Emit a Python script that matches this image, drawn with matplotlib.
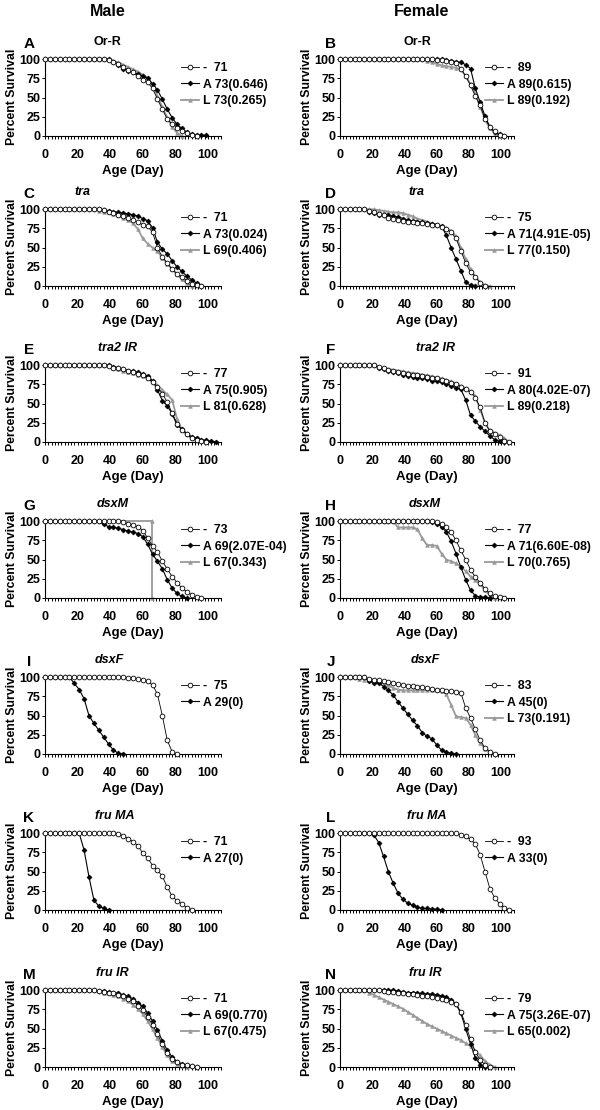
#!/usr/bin/env python

import numpy as np
import matplotlib.pyplot as plt
from matplotlib.ticker import MultipleLocator

plt.rcParams['font.family'] = 'Liberation Sans'
plt.rcParams['font.weight'] = 'bold'

# ----------------------------------------------------------
# Survival data: percent alive, read every 3 days from day 0
# (ctrl = "-", a = "A", l = "L")
# ----------------------------------------------------------
STEP = 3

# A - male Or-R
a_ctrl = [100, 100, 100, 100, 100, 100, 100, 100, 100, 100, 100, 100, 100,
          99, 97, 94, 90, 86, 83, 78, 73, 70, 62, 48, 35, 22, 16, 11, 7, 4, 1, 0]
a_a = [100, 100, 100, 100, 100, 100, 100, 100, 100, 100, 100, 100, 100, 100,
       97, 92, 88, 85, 83, 81, 78, 75, 68, 60, 48, 35, 24, 15, 10, 5, 2, 1, 1, 1]
a_l = [100, 100, 100, 100, 100, 100, 100, 100, 100, 100, 100, 100, 100, 100,
       98, 96, 93, 90, 87, 84, 80, 76, 67, 52, 38, 24, 12, 4, 0]

# B - female Or-R
b_ctrl = [100, 100, 100, 100, 100, 100, 100, 100, 100, 100, 100, 100, 100, 100,
          100, 100, 100, 100, 100, 100,
          99, 99, 98, 97, 95, 88, 78, 66, 52, 40, 22, 12, 6, 1, 0]
b_a = [100, 100, 100, 100, 100, 100, 100, 100, 100, 100, 100, 100, 100, 100,
       100, 100, 100, 100, 100, 100, 100, 100,
       99, 98, 97, 96, 93, 88, 62, 44, 26, 12, 5, 2, 0]
b_l = [100, 100, 100, 100, 100, 100, 100, 100, 100, 100, 100, 100, 100, 100,
       100, 100, 100, 100,
       98, 96, 94, 92, 91, 90, 89, 87, 78, 68, 55, 38, 22, 10, 4, 0]

# C - male tra
c_ctrl = [100, 100, 100, 100, 100, 100, 100, 100, 100, 100, 100, 100,
          99, 97, 95, 93, 91, 89, 86, 83, 80, 78, 70, 50, 38, 30, 22, 16, 12, 7, 3, 1, 0]
c_a = [100, 100, 100, 100, 100, 100, 100, 100, 100, 100, 100, 100,
       99, 98, 97, 96, 95, 94, 93, 91, 88, 85, 76, 57, 48, 42, 33, 25, 19, 13, 8, 4, 0]
c_l = [100, 100, 100, 100, 100, 100, 100, 100, 100, 100, 100,
       98, 97, 96, 94, 92, 89, 86, 82, 74, 62, 55, 50, 45, 37, 29, 22, 15, 9, 4, 0]

# D - female tra
d_ctrl = [100, 100, 100, 100, 100, 100,
          98, 96, 94, 92, 89, 87, 86, 85, 84, 83, 82, 82, 81, 80, 79, 77, 74, 70,
          62, 46, 30, 18, 12, 4, 0]
d_a = [100, 100, 100, 100, 100, 100,
       97, 95, 93, 92, 92, 91, 90, 88, 86, 85, 84, 83, 82, 81, 80, 78, 66, 50,
       35, 20, 5, 1, 0]
d_l = [100, 100, 100, 100, 100, 100, 100, 100,
       99, 98, 97, 96, 96, 95, 93, 91, 88, 86, 84, 82, 80, 78, 75, 72, 65, 50,
       35, 22, 12, 5, 1, 0]

# E - male tra2 IR
e_ctrl = [100, 100, 100, 100, 100, 100, 100, 100, 100, 100, 100, 100, 100,
          99, 97, 96, 95, 93, 91, 89, 87, 83, 78, 72, 63, 52, 38, 24, 16, 10, 5, 3, 1, 0]
e_a = [100, 100, 100, 100, 100, 100, 100, 100, 100, 100, 100, 100, 100, 100,
       98, 97, 95, 93, 92, 91, 89, 86, 80, 68, 54, 47, 37, 22, 17, 11, 7, 5, 3, 2, 1, 0]
e_l = [100, 100, 100, 100, 100, 100, 100, 100, 100, 100, 100, 100, 100, 100,
       97, 95, 93, 91, 90, 88, 86, 83, 79, 74, 68, 62, 55, 30, 16, 10, 5, 3, 1, 0]

# F - female tra2 IR
f_ctrl = [100, 100, 100, 100, 100, 100, 100, 100,
          98, 96, 94, 92, 91, 90, 89, 88, 87, 86, 85, 84, 83, 81, 79, 77, 75, 72,
          69, 65, 58, 45, 25, 14, 11, 6, 1, 0]
f_a = [100, 100, 100, 100, 100, 100, 100, 100,
       97, 95, 92, 91, 90, 88, 86, 85, 84, 83, 82, 80, 79, 78, 76, 73, 71, 69,
       55, 35, 27, 20, 14, 8, 3, 1, 0]
f_l = [100, 100, 100, 100, 100, 100, 100, 100,
       98, 96, 95, 94, 93, 92, 91, 90, 89, 88, 87, 86, 84, 83, 81, 79, 76, 73,
       70, 66, 60, 42, 25, 15, 12, 9, 5, 0]

# G - male dsxM
g_ctrl = [100, 100, 100, 100, 100, 100, 100, 100, 100, 100, 100, 100, 100, 100,
          100, 100,
          99, 97, 95, 93, 88, 78, 68, 60, 48, 38, 28, 20, 13, 8, 4, 1, 0]
g_a = [100, 100, 100, 100, 100, 100, 100, 100, 100, 100, 100, 100,
       96, 93, 92, 91, 89, 87, 86, 84, 80, 70, 57, 48, 38, 24, 13, 6, 2, 0]
g_l_days = [0, 65.5, 65.5]          # all L flies died on the same day
g_l = [100, 100, 0]

# H - female dsxM
h_ctrl = [100, 100, 100, 100, 100, 100, 100, 100, 100, 100, 100, 100, 100, 100,
          100, 100, 100, 100, 100, 100,
          99, 97, 93, 86, 75, 62, 50, 37, 27, 20, 12, 6, 2, 1, 0]
h_a = [100, 100, 100, 100, 100, 100, 100, 100, 100, 100, 100, 100, 100, 100,
       100, 100, 100, 100, 100,
       99, 97, 93, 86, 74, 58, 40, 24, 10, 3, 1, 1, 0]
h_l = [100, 100, 100, 100, 100, 100, 100, 100, 100, 100, 100, 100,
       92, 92, 92, 92, 90, 78, 69, 69, 68, 58, 50, 48, 45, 41, 35, 28, 23, 18,
       10, 4, 0]

# I - male dsxF
i_ctrl = [100, 100, 100, 100, 100, 100, 100, 100, 100, 100, 100, 100, 100, 100,
          100, 100, 100,
          99, 99, 98, 97, 95, 90, 78, 50, 18, 3, 0]
i_a = [100, 100, 100, 100, 100, 100,
       92, 84, 72, 50, 40, 31, 22, 13, 5, 1, 0]

# J - female dsxF
j_ctrl = [100, 100, 100, 100, 100, 100,
          98, 97, 96, 95, 94, 93, 91, 90, 89, 89, 88, 87, 86, 85, 84, 83, 82, 82,
          81, 80, 60, 47, 32, 18, 8, 3, 0]
j_a = [100, 100, 100, 100, 100, 100,
       95, 93, 93, 88, 83, 77, 68, 60, 52, 44, 37, 28, 23, 20, 12, 5, 2, 1, 0]
j_l = [100, 100, 100, 100,
       98, 97, 97, 96, 95, 92, 90, 86, 84, 83, 83, 83, 83, 83, 83, 83, 83, 82,
       78, 64, 49, 48, 47, 38, 25, 14, 7, 3, 0]

# K - male fru MA
k_ctrl = [100, 100, 100, 100, 100, 100, 100, 100, 100, 100, 100, 100, 100, 100,
          100,
          99, 97, 93, 89, 84, 74, 68, 58, 52, 44, 30, 18, 12, 8, 3, 0]
k_a = [100, 100, 100, 100, 100, 100, 100, 100,
       78, 43, 13, 5, 2, 0]

# L - female fru MA
l_ctrl = [100, 100, 100, 100, 100, 100, 100, 100, 100, 100, 100, 100, 100, 100,
          100, 100, 100, 100, 100, 100, 100, 100, 100, 100, 100,
          98, 96, 92, 86, 72, 50, 28, 16, 8, 3, 0]
l_a = [100, 100, 100, 100, 100, 100, 100,
       98, 88, 70, 50, 35, 22, 14, 9, 6, 4, 2, 2, 1, 1, 0]

# M - male fru IR
m_ctrl = [100, 100, 100, 100, 100, 100, 100, 100, 100, 100, 100,
          99, 98, 97, 96, 94, 92, 89, 86, 80, 74, 65, 55, 43, 30, 18, 10, 6, 3, 2, 1, 0]
m_a = [100, 100, 100, 100, 100, 100, 100, 100, 100, 100, 100,
       99, 99, 98, 97, 96, 94, 92, 89, 84, 79, 70, 60, 48, 34, 22, 13, 7, 4, 2, 1, 0]
m_l = [100, 100, 100, 100, 100, 100, 100, 100, 100, 100, 100,
       99, 97, 96, 94, 92, 89, 86, 81, 76, 69, 60, 49, 38, 26, 15, 8, 4, 1, 0]

# N - female fru IR
n_ctrl = [100, 100, 100, 100, 100, 100, 100, 100, 100,
          99, 98, 98, 97, 96, 95, 95, 94, 93, 92, 91, 90, 89, 87, 85, 82, 72, 55,
          36, 20, 9, 3, 0]
n_a = [100, 100, 100, 100, 100, 100, 100, 100, 100, 100, 100, 100,
       99, 98, 97, 97, 96, 96, 95, 95, 94, 93, 91, 88, 82, 70, 50, 30, 12, 3, 0]
n_l = [100, 100, 100, 100, 100, 100,
       97, 94, 91, 88, 85, 82, 79, 76, 72, 68, 64, 60, 56, 53, 50, 47, 44, 41,
       38, 35, 31, 27, 21, 15, 8, 3, 0]

# Panel letters, genotype titles and legend texts (median + p value)
letters = list("ABCDEFGHIJKLMN")
titles = ["Or-R", "Or-R", "tra", "tra", "tra2 IR", "tra2 IR", "dsxM", "dsxM",
          "dsxF", "dsxF", "fru MA", "fru MA", "fru IR", "fru IR"]
curves = [
    [a_ctrl, a_a, a_l], [b_ctrl, b_a, b_l],
    [c_ctrl, c_a, c_l], [d_ctrl, d_a, d_l],
    [e_ctrl, e_a, e_l], [f_ctrl, f_a, f_l],
    [g_ctrl, g_a, g_l], [h_ctrl, h_a, h_l],
    [i_ctrl, i_a], [j_ctrl, j_a, j_l],
    [k_ctrl, k_a], [l_ctrl, l_a],
    [m_ctrl, m_a, m_l], [n_ctrl, n_a, n_l],
]
legends = [
    ["-  71", "A 73(0.646)", "L 73(0.265)"],
    ["-  89", "A 89(0.615)", "L 89(0.192)"],
    ["-  71", "A 73(0.024)", "L 69(0.406)"],
    ["-  75", "A 71(4.91E-05)", "L 77(0.150)"],
    ["-  77", "A 75(0.905)", "L 81(0.628)"],
    ["-  91", "A 80(4.02E-07)", "L 89(0.218)"],
    ["-  73", "A 69(2.07E-04)", "L 67(0.343)"],
    ["-  77", "A 71(6.60E-08)", "L 70(0.765)"],
    ["-  75", "A 29(0)"],
    ["-  83", "A 45(0)", "L 73(0.191)"],
    ["-  71", "A 27(0)"],
    ["-  93", "A 33(0)"],
    ["-  71", "A 69(0.770)", "L 67(0.475)"],
    ["-  79", "A 75(3.26E-07)", "L 65(0.002)"],
]

# ----------------------------------------------------------
# Layout (pixels on a 600 x 1110 canvas)
# ----------------------------------------------------------
W, H = 600, 1110
row_zero = [136, 286, 442, 598, 754, 910, 1067]   # y=0 line of each row
col_left = [45, 340]
col_width = [176, 174]
ax_h = 79
title_x = [107, 417, 82, 416, 117, 435, 113, 425, 109, 425, 115, 427, 112, 425]
letter_x = [29, 331]
legend_x = [181, 485]

styles = [
    dict(color='black', marker='o', mfc='white', mec='black', ms=3.4, mew=0.6,
         lw=0.6, zorder=4),
    dict(color='black', marker='D', mfc='black', mec='black', ms=2.5, mew=0.5,
         lw=0.8, zorder=3),
    dict(color='#9a9a9a', marker='^', mfc='#9a9a9a', mec='#9a9a9a', ms=2.6,
         mew=0.5, lw=1.3, zorder=2),
]


def fx(px):
    return px / W


def fy(py):
    return 1 - py / H


fig = plt.figure(figsize=(6, 11.1), dpi=100)

for k in range(14):
    row, col = divmod(k, 2)
    zero = row_zero[row]
    top = zero - 77
    ax = fig.add_axes([fx(col_left[col]), fy(zero), col_width[col] / W, ax_h / H])

    handles = []
    for j, surv in enumerate(curves[k]):
        if surv is g_l:
            days = g_l_days
        else:
            days = np.arange(len(surv)) * STEP
        h, = ax.plot(days, surv, clip_on=False, **styles[j])
        handles.append(h)

    ax.set_xlim(0, 108)
    ax.set_ylim(0, 103)
    ax.set_xticks([0, 20, 40, 60, 80, 100])
    ax.xaxis.set_minor_locator(MultipleLocator(2))
    ax.set_yticks([0, 25, 50, 75, 100])
    ax.tick_params(axis='x', which='both', length=2.2, width=0.7, labelsize=9, pad=7)
    ax.tick_params(axis='y', which='major', length=2.2, width=0.7, labelsize=9, pad=1)
    for s in ['top', 'right']:
        ax.spines[s].set_visible(False)
    for s in ['left', 'bottom']:
        ax.spines[s].set_linewidth(0.8)
    ax.set_xlabel("Age (Day)", fontsize=9.5, fontweight='bold', labelpad=3)
    ax.set_ylabel("Percent Survival", fontsize=8.8, fontweight='bold', labelpad=1)

    ax.legend(handles, legends[k], loc='upper left',
              bbox_to_anchor=(fx(legend_x[col]), fy(top + 3)),
              bbox_transform=fig.transFigure, frameon=False,
              prop=dict(size=8.8, weight='bold'), handlelength=1.5,
              handletextpad=0.3, labelspacing=0.38, borderpad=0,
              borderaxespad=0, numpoints=1)

    fig.text(fx(title_x[k]), fy(top - 17), titles[k], ha='center', va='center',
             fontsize=9, fontweight='bold',
             style='normal' if titles[k] == "Or-R" else 'italic')
    fig.text(fx(letter_x[col]), fy(top - 15), letters[k], ha='center',
             va='center', fontsize=11, fontweight='bold')

fig.text(fx(108), fy(11), "Male", ha='center', va='center', fontsize=11.5,
         fontweight='bold')
fig.text(fx(422), fy(11), "Female", ha='center', va='center', fontsize=11.5,
         fontweight='bold')

fig.savefig("out.png", dpi=100)
